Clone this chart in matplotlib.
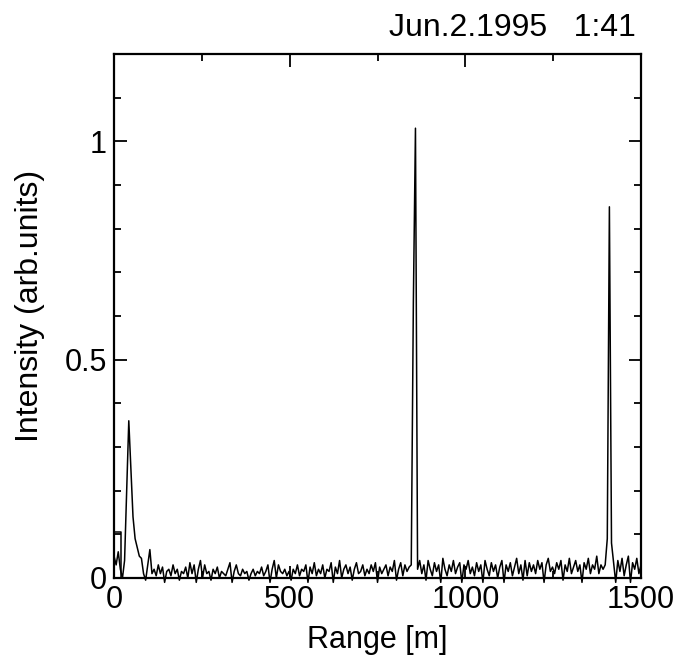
import numpy as np
import matplotlib
matplotlib.use("Agg")
from matplotlib import pyplot as plt
from matplotlib.ticker import MultipleLocator, FixedLocator, FixedFormatter

plt.rcParams['font.family'] = ['Liberation Sans', 'DejaVu Sans']

# range bins, 6 m step
range_m = np.arange(0, 1501, 6)

intensity = [
    0.05, 0.03, 0.06, 0.02, 0.00, 0.04, 0.20, 0.36, 0.25, 0.14,
    0.09, 0.07, 0.05, 0.045, 0.01, -0.005, 0.03, 0.065, 0.01, 0.02,
    0.005, 0.03, 0.01, 0.025, -0.01, 0.015, 0.02, 0.005, 0.03, 0.01,
    0.02, -0.005, 0.015, 0.01, 0.025, 0.00, 0.035, 0.01, 0.03, -0.01,
    0.02, 0.04, 0.00, 0.03, 0.01, 0.015, -0.005, 0.02, 0.01, 0.025,
    0.00, 0.015, 0.01, 0.005, 0.02, 0.035, -0.01, 0.015, 0.03, 0.01,
    0.005, 0.02, 0.01, 0.015, -0.005, 0.01, 0.02, 0.005, 0.015, 0.01,
    0.025, 0.005, 0.015, 0.03, -0.01, 0.02, 0.04, 0.00, 0.03, 0.015,
    0.01, 0.02, 0.005, 0.015, -0.005, 0.02, 0.01, 0.03, 0.005, 0.02,
    0.015, 0.03, -0.01, 0.025, 0.01, 0.035, 0.005, 0.02, 0.01, 0.03,
    0.00, 0.02, 0.015, 0.035, -0.01, 0.025, 0.01, 0.04, 0.00, 0.02,
    0.03, 0.01, 0.025, -0.005, 0.02, 0.035, 0.01, 0.015, 0.03, 0.005,
    0.02, 0.01, 0.03, 0.015, 0.035, -0.01, 0.025, 0.01, 0.02, 0.03,
    0.005, 0.025, 0.015, 0.04, -0.005, 0.02, 0.035, 0.005, 0.03, 0.015,
    0.025, 0.03, 0.63, 1.03, 0.02, 0.04, 0.01, 0.03, -0.005, 0.04,
    0.02, 0.005, 0.035, 0.015, 0.03, -0.01, 0.045, 0.02, 0.005, 0.03,
    0.015, 0.04, 0.01, 0.025, 0.035, -0.01, 0.03, 0.02, 0.04, 0.01,
    0.025, 0.005, 0.035, 0.015, 0.03, -0.01, 0.04, 0.02, 0.005, 0.035,
    0.015, 0.03, 0.00, 0.025, 0.04, -0.01, 0.03, 0.015, 0.035, 0.005,
    0.025, 0.045, 0.01, 0.03, -0.005, 0.04, 0.005, 0.035, 0.015, 0.03,
    0.01, 0.04, 0.02, 0.035, -0.01, 0.03, 0.045, 0.015, 0.025, 0.01,
    0.035, 0.02, 0.04, -0.005, 0.03, 0.015, 0.045, 0.01, 0.025, 0.04,
    0.015, 0.03, -0.01, 0.035, 0.02, 0.045, 0.01, 0.03, 0.02, 0.05,
    0.01, 0.03, 0.02, 0.03, 0.09, 0.85, 0.08, 0.035, -0.01, 0.04,
    0.015, 0.045, 0.005, 0.03, 0.05, -0.01, 0.035, 0.02, 0.045, 0.01,
    0.03,
]

# first-bin marker box near the origin
box_x = [0, 0, 20, 20]
box_y = [0, 0.105, 0.105, 0]

x_ticks = [0, 500, 1000, 1500]
x_labels = ['0', '500', '1000', '1500']
y_ticks = [0, 0.5, 1]
y_labels = ['0', '0.5', '1']

fig = plt.figure(figsize=(6.82, 6.58), dpi=100)
ax = fig.add_axes([0.1672, 0.1216, 0.7727, 0.7964])

ax.plot(range_m, intensity, color='black', lw=1.1, clip_on=False)
ax.plot(box_x, box_y, color='black', lw=1.1)

ax.set_xlim(0, 1500)
ax.set_ylim(0, 1.2)

ax.xaxis.set_major_locator(FixedLocator(x_ticks))
ax.xaxis.set_major_formatter(FixedFormatter(x_labels))
ax.xaxis.set_minor_locator(MultipleLocator(250))
ax.yaxis.set_major_locator(FixedLocator(y_ticks))
ax.yaxis.set_major_formatter(FixedFormatter(y_labels))
ax.yaxis.set_minor_locator(MultipleLocator(0.1))

ax.tick_params(which='both', direction='in', top=True, right=True,
               width=1.3, labelsize=22, pad=5)
ax.tick_params(which='major', length=9)
ax.tick_params(which='minor', length=5)
for s in ax.spines.values():
    s.set_linewidth(1.6)

ax.set_xlabel('Range [m]', fontsize=22, va='center')
ax.xaxis.set_label_coords(0.5, -0.118)
ax.set_ylabel('Intensity (arb.units)', fontsize=23, va='center')
ax.yaxis.set_label_coords(-0.16, 0.52)

fig.text(0.933, 0.957, 'Jun.2.1995   1:41', fontsize=23,
         ha='right', va='center')

fig.savefig('out.png', dpi=100)
